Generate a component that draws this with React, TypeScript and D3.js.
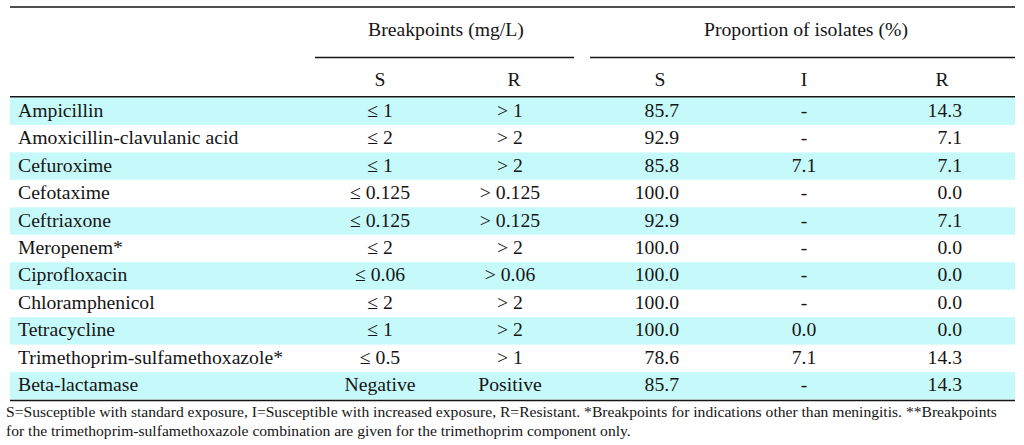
import React from "react";
import * as d3 from "d3";

const drugs = [
  "Ampicillin",
  "Amoxicillin-clavulanic acid",
  "Cefuroxime",
  "Cefotaxime",
  "Ceftriaxone",
  "Meropenem*",
  "Ciprofloxacin",
  "Chloramphenicol",
  "Tetracycline",
  "Trimethoprim-sulfamethoxazole*",
  "Beta-lactamase",
];
const breakS = ["≤ 1", "≤ 2", "≤ 1", "≤ 0.125", "≤ 0.125", "≤ 2", "≤ 0.06", "≤ 2", "≤ 1", "≤ 0.5", "Negative"];
const breakR = ["> 1", "> 2", "> 2", "> 0.125", "> 0.125", "> 2", "> 0.06", "> 2", "> 2", "> 1", "Positive"];
const propS = ["85.7", "92.9", "85.8", "100.0", "92.9", "100.0", "100.0", "100.0", "100.0", "78.6", "85.7"];
const propI = ["-", "-", "7.1", "-", "-", "-", "-", "-", "0.0", "7.1", "-"];
const propR = ["14.3", "7.1", "7.1", "0.0", "7.1", "0.0", "0.0", "0.0", "0.0", "14.3", "14.3"];

const groupHeaders = ["Breakpoints (mg/L)", "Proportion of isolates (%)"];
const subHeaders = ["S", "R", "S", "I", "R"];
const footnote = [
  "S=Susceptible with standard exposure, I=Susceptible with increased exposure, R=Resistant. *Breakpoints for indications other than meningitis. **Breakpoints",
  "for the trimethoprim-sulfamethoxazole combination are given for the trimethoprim component only.",
];

export default function App() {
  const W = 1024;
  const H = 445;
  const left = 10;
  const right = 1015;
  const top = 97.5;
  const bottom = 399.5;
  const font = "Liberation Serif";
  const fs = 19.7;
  const ink = "#151515";
  const cyan = "#c6fafa";

  const y = d3.scaleBand<number>().domain(d3.range(drugs.length)).range([top, bottom]).padding(0);
  const bh = y.bandwidth();

  const colBS = 380;
  const colBR = 510;
  const colPSright = 679;
  const colPI = 804;
  const colPRright = 962;
  const subX = [380, 514, 660, 804, 942];

  const T = (p: any) => (
    <text {...p} style={{ fontFamily: font }} fill={ink}>
      {p.children}
    </text>
  );

  return (
    <svg width={W} height={H} style={{ position: "absolute", left: 0, top: 0 }}>
      <rect x={0} y={0} width={W} height={H} fill="#fff" />
      {drugs.map((d, i) =>
        i % 2 === 0 ? (
          <rect key={"b" + i} x={left} y={y(i)!} width={right - left} height={bh} fill={cyan} />
        ) : null
      )}
      <line x1={left} x2={right} y1={7} y2={7} stroke={ink} strokeWidth={1.6} />
      <line x1={315} x2={574} y1={57.5} y2={57.5} stroke={ink} strokeWidth={1.4} />
      <line x1={590} x2={right} y1={57.5} y2={57.5} stroke={ink} strokeWidth={1.4} />
      <line x1={left} x2={right} y1={96.8} y2={96.8} stroke={ink} strokeWidth={1.6} />
      <line x1={left} x2={right} y1={bottom + 1} y2={bottom + 1} stroke={ink} strokeWidth={1.6} />

      <T x={446} y={36} fontSize={fs} textAnchor="middle">{groupHeaders[0]}</T>
      <T x={806} y={36} fontSize={fs} textAnchor="middle">{groupHeaders[1]}</T>
      {subHeaders.map((s, i) => (
        <T key={"h" + i} x={subX[i]} y={86} fontSize={fs} textAnchor="middle">{s}</T>
      ))}

      {drugs.map((d, i) => {
        const by = y(i)! + bh / 2 + 5.5;
        return (
          <g key={"r" + i}>
            <T x={18} y={by} fontSize={fs}>{d}</T>
            <T x={colBS} y={by} fontSize={fs} textAnchor="middle">{breakS[i]}</T>
            <T x={colBR} y={by} fontSize={fs} textAnchor="middle">{breakR[i]}</T>
            <T x={colPSright} y={by} fontSize={fs} textAnchor="end">{propS[i]}</T>
            <T x={colPI} y={by} fontSize={fs} textAnchor="middle">{propI[i]}</T>
            <T x={colPRright} y={by} fontSize={fs} textAnchor="end">{propR[i]}</T>
          </g>
        );
      })}

      <T x={6} y={417} fontSize={15.6}>{footnote[0]}</T>
      <T x={6} y={436} fontSize={15.6}>{footnote[1]}</T>
    </svg>
  );
}
